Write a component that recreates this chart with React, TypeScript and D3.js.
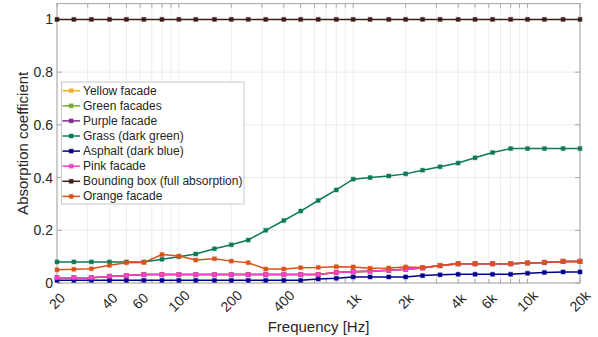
import * as d3 from "d3";

const width = 598;
const height = 337;
const margin = { top: 4, right: 18, bottom: 54, left: 57 };

// third-octave band centres (Hz)
const freqs = [
  20, 25, 31.5, 40, 50, 63, 80, 100, 125, 160, 200, 250, 315, 400, 500, 630,
  800, 1000, 1250, 1600, 2000, 2500, 3150, 4000, 5000, 6300, 8000, 10000,
  12500, 16000, 20000,
];

const xTickValues = [20, 40, 60, 100, 200, 400, 1000, 2000, 4000, 6000, 10000, 20000];
const xTickLabels = ["20", "40", "60", "100", "200", "400", "1k", "2k", "4k", "6k", "10k", "20k"];
const yTickValues = [0, 0.2, 0.4, 0.6, 0.8, 1];
const yTickLabels = ["0", "0.2", "0.4", "0.6", "0.8", "1"];

// facades hidden underneath the pink curve
const yellowFacade = [
  0.02, 0.02, 0.02, 0.025, 0.028, 0.032, 0.032, 0.032, 0.032, 0.032, 0.032,
  0.032, 0.032, 0.032, 0.032, 0.032, 0.04, 0.043, 0.045, 0.048, 0.052, 0.057,
  0.066, 0.073, 0.073, 0.073, 0.073, 0.076, 0.078, 0.082, 0.082,
];
const greenFacades = [
  0.02, 0.02, 0.02, 0.025, 0.028, 0.032, 0.032, 0.032, 0.032, 0.032, 0.032,
  0.032, 0.032, 0.032, 0.032, 0.032, 0.04, 0.043, 0.045, 0.048, 0.052, 0.057,
  0.066, 0.073, 0.073, 0.073, 0.073, 0.076, 0.078, 0.082, 0.082,
];
const purpleFacade = [
  0.02, 0.02, 0.02, 0.025, 0.028, 0.032, 0.032, 0.032, 0.032, 0.032, 0.032,
  0.032, 0.032, 0.032, 0.032, 0.032, 0.04, 0.043, 0.045, 0.048, 0.052, 0.057,
  0.066, 0.073, 0.073, 0.073, 0.073, 0.076, 0.078, 0.082, 0.082,
];
const grass = [
  0.08, 0.08, 0.08, 0.08, 0.08, 0.08, 0.09, 0.1, 0.11, 0.13, 0.145, 0.163,
  0.2, 0.237, 0.273, 0.313, 0.353, 0.394, 0.4, 0.406, 0.414, 0.428, 0.441,
  0.455, 0.475, 0.495, 0.51, 0.51, 0.51, 0.51, 0.51,
];
const asphalt = [
  0.01, 0.01, 0.01, 0.01, 0.01, 0.01, 0.01, 0.01, 0.01, 0.01, 0.01, 0.01,
  0.01, 0.01, 0.01, 0.015, 0.018, 0.023, 0.023, 0.023, 0.023, 0.028, 0.031,
  0.033, 0.033, 0.033, 0.033, 0.037, 0.04, 0.042, 0.042,
];
const pinkFacade = [
  0.02, 0.02, 0.02, 0.025, 0.028, 0.032, 0.032, 0.032, 0.032, 0.032, 0.032,
  0.032, 0.032, 0.032, 0.032, 0.032, 0.04, 0.043, 0.045, 0.048, 0.052, 0.057,
  0.066, 0.073, 0.073, 0.073, 0.073, 0.076, 0.078, 0.082, 0.082,
];
const boundingBox = [
  1, 1, 1, 1, 1, 1, 1, 1, 1, 1, 1, 1, 1, 1, 1, 1, 1, 1, 1, 1, 1, 1, 1, 1, 1,
  1, 1, 1, 1, 1, 1,
];
const orangeFacade = [
  0.05, 0.052, 0.054, 0.067, 0.077, 0.078, 0.108, 0.102, 0.087, 0.092, 0.083,
  0.077, 0.053, 0.053, 0.058, 0.059, 0.062, 0.061, 0.056, 0.057, 0.061, 0.059,
  0.066, 0.073, 0.073, 0.073, 0.073, 0.076, 0.078, 0.082, 0.082,
];

const seriesNames = [
  "Yellow facade",
  "Green facades",
  "Purple facade",
  "Grass (dark green)",
  "Asphalt (dark blue)",
  "Pink facade",
  "Bounding box (full absorption)",
  "Orange facade",
];
const seriesValues = [
  yellowFacade,
  greenFacades,
  purpleFacade,
  grass,
  asphalt,
  pinkFacade,
  boundingBox,
  orangeFacade,
];
const seriesColors = [
  "#EDB120",
  "#77AC30",
  "#7E2F8E",
  "#0C7A56",
  "#00008B",
  "#FF40C8",
  "#3C1C16",
  "#D95319",
];

const font = "'Liberation Sans', Arial, sans-serif";
const textColor = "#262626";
const axisColor = "#a6a6a6";
const gridColor = "#ececec";

const App = () => {
  const x = d3
    .scaleLog()
    .domain([20, 20000])
    .range([margin.left, width - margin.right]);
  const y = d3
    .scaleLinear()
    .domain([0, 1.06])
    .range([283, 3.6]);

  // minor log grid: 20,30,...,90,100,200,...
  const gridX: number[] = [];
  for (const dec of [10, 100, 1000, 10000]) {
    for (let k = 1; k <= 9; k++) {
      const v = dec * k;
      if (v >= 20 && v <= 20000) gridX.push(v);
    }
  }

  const line = d3
    .line<number>()
    .x((_, i) => x(freqs[i]))
    .y((d) => y(d));

  const x0 = x.range()[0];
  const x1 = x.range()[1];
  const y0 = y(0);
  const yTop = y.range()[1];

  const legend = { x: 61.5, y: 82, w: 182.5, h: 122, row: 15.1 };

  return (
    <svg
      width={width}
      height={height}
      style={{ position: "absolute", left: 0, top: 0, background: "#fff" }}
    >
      {/* grid */}
      {gridX.map((v) => (
        <line key={"gx" + v} x1={x(v)} x2={x(v)} y1={yTop} y2={y0} stroke={gridColor} />
      ))}
      {yTickValues.map((v) => (
        <line key={"gy" + v} x1={x0} x2={x1} y1={y(v)} y2={y(v)} stroke={gridColor} />
      ))}

      {/* box + ticks */}
      <rect x={x0} y={yTop} width={x1 - x0} height={y0 - yTop} fill="none" stroke={axisColor} />
      {gridX.map((v) => (
        <g key={"tx" + v} stroke={axisColor}>
          <line x1={x(v)} x2={x(v)} y1={y0} y2={y0 - 4} />
          <line x1={x(v)} x2={x(v)} y1={yTop} y2={yTop + 4} />
        </g>
      ))}
      {yTickValues.map((v) => (
        <g key={"ty" + v} stroke={axisColor}>
          <line x1={x0} x2={x0 + 5} y1={y(v)} y2={y(v)} />
          <line x1={x1} x2={x1 - 5} y1={y(v)} y2={y(v)} />
        </g>
      ))}

      {/* series */}
      {seriesValues.map((vals, s) => (
        <g key={"s" + s}>
          <path d={line(vals) ?? ""} fill="none" stroke={seriesColors[s]} strokeWidth={1.5} />
          {vals.map((v, i) => (
            <rect
              key={i}
              x={x(freqs[i]) - 2}
              y={y(v) - 2}
              width={4}
              height={4}
              fill={seriesColors[s]}
              stroke={seriesColors[s]}
              strokeOpacity={0.35}
              strokeWidth={1.2}
            />
          ))}
        </g>
      ))}

      {/* tick labels */}
      {yTickValues.map((v, i) => (
        <text
          key={"yl" + v}
          x={x0 - 4}
          y={y(v)}
          textAnchor="end"
          dominantBaseline="central"
          fontFamily={font}
          fontSize={14}
          fill={textColor}
        >
          {yTickLabels[i]}
        </text>
      ))}
      {xTickValues.map((v, i) => (
        <text
          key={"xl" + v}
          transform={`translate(${x(v)},301) rotate(-45)`}
          textAnchor="middle"
          dominantBaseline="central"
          fontFamily={font}
          fontSize={14}
          fill={textColor}
        >
          {xTickLabels[i]}
        </text>
      ))}

      {/* axis titles */}
      <text
        x={(x0 + x1) / 2}
        y={332}
        textAnchor="middle"
        fontFamily={font}
        fontSize={15}
        fill={textColor}
      >
        Frequency [Hz]
      </text>
      <text
        transform={`translate(22,${(yTop + y0) / 2}) rotate(-90)`}
        textAnchor="middle"
        dominantBaseline="central"
        fontFamily={font}
        fontSize={15}
        fill={textColor}
      >
        Absorption coefficient
      </text>

      {/* legend */}
      <rect
        x={legend.x}
        y={legend.y}
        width={legend.w}
        height={legend.h}
        fill="#fff"
        stroke="#c8c8c8"
      />
      {seriesNames.map((name, s) => {
        const cy = legend.y + 8.7 + s * legend.row;
        return (
          <g key={"lg" + s}>
            <line x1={62.5} x2={80} y1={cy} y2={cy} stroke={seriesColors[s]} strokeWidth={1.5} />
            <rect
              x={69.2}
              y={cy - 2}
              width={4}
              height={4}
              fill={seriesColors[s]}
              stroke={seriesColors[s]}
              strokeOpacity={0.35}
              strokeWidth={1.2}
            />
            <text
              x={83}
              y={cy}
              dominantBaseline="central"
              fontFamily={font}
              fontSize={12}
              fill={textColor}
            >
              {name}
            </text>
          </g>
        );
      })}
    </svg>
  );
};

export default App;
